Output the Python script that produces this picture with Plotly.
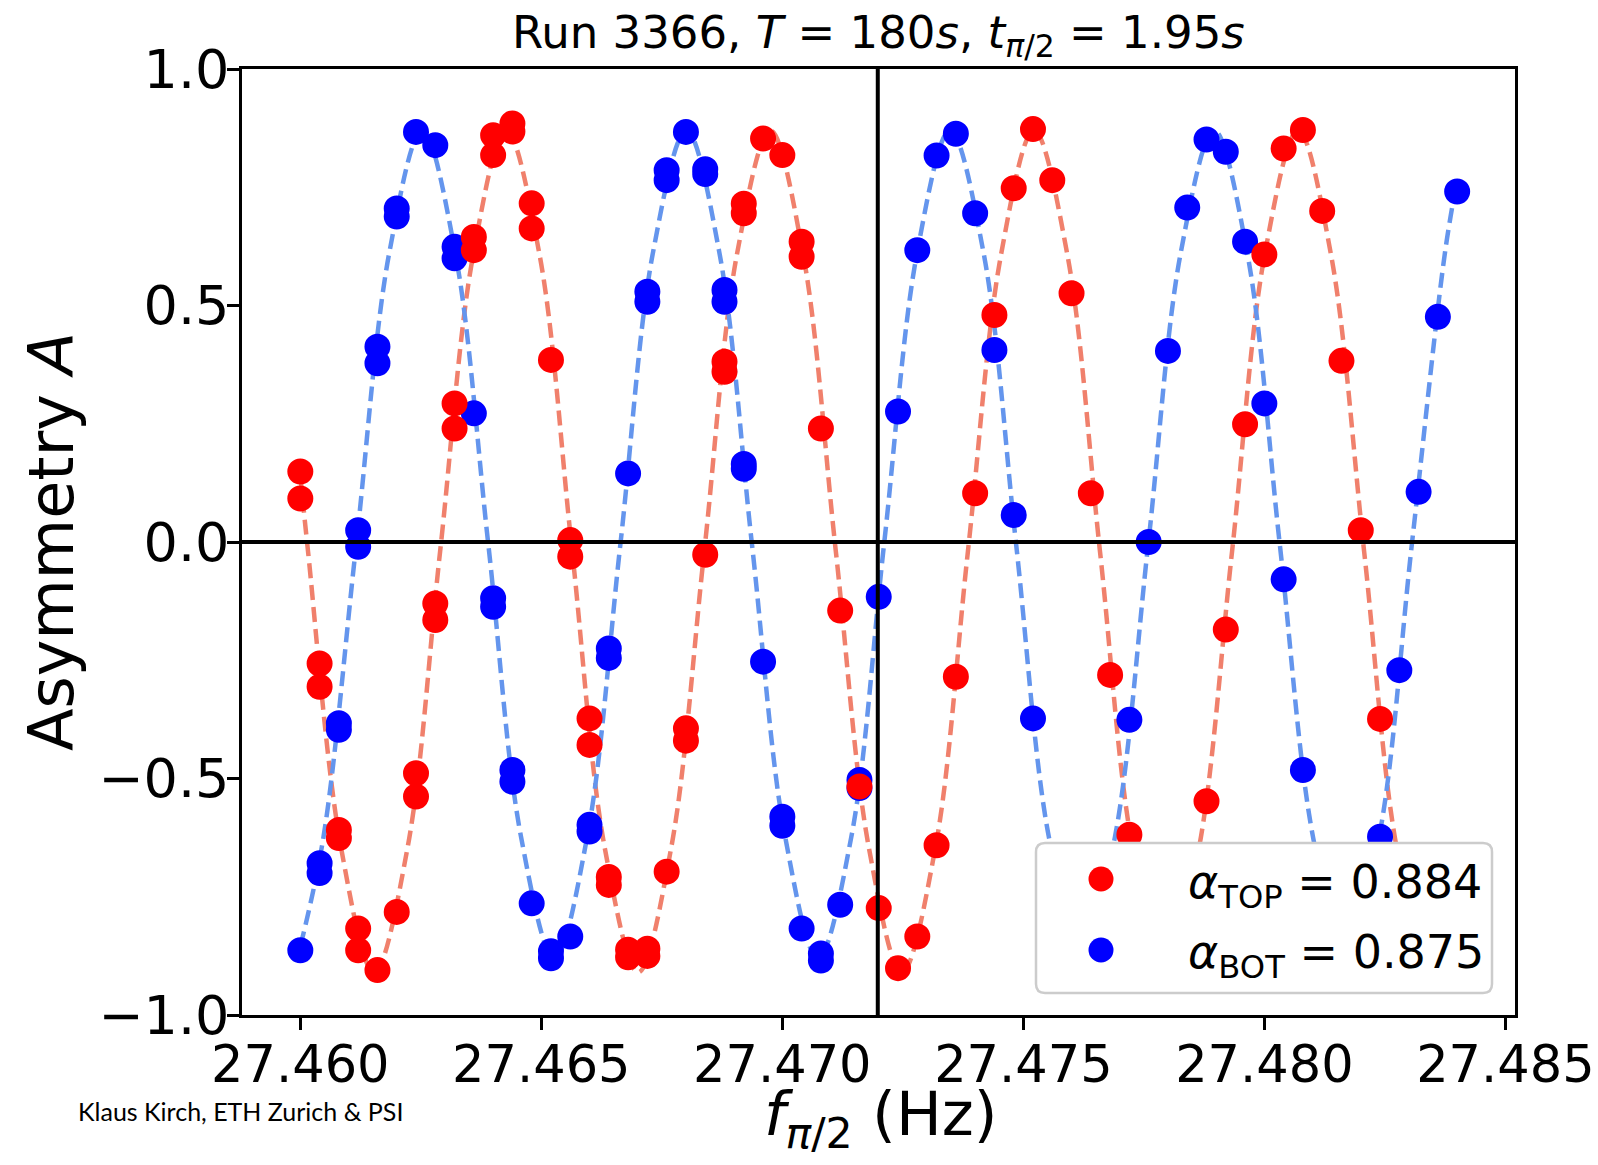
import plotly.graph_objects as go

# ---------------- data ----------------
freq_top = [27.4600, 27.4600, 27.4604, 27.4604, 27.4608, 27.4608, 27.4612, 27.4612,
            27.4616, 27.4620, 27.4624, 27.4624, 27.4628, 27.4628, 27.4632, 27.4632,
            27.4636, 27.4636, 27.4640, 27.4640, 27.4644, 27.4644, 27.4648, 27.4648,
            27.4652, 27.4656, 27.4656, 27.4660, 27.4660, 27.4664, 27.4664, 27.4668,
            27.4668, 27.4672, 27.4672, 27.4676, 27.4680, 27.4680, 27.4684, 27.4688,
            27.4688, 27.4692, 27.4692, 27.4696, 27.4700, 27.4704, 27.4704, 27.4708,
            27.4712, 27.4716, 27.4720, 27.4724, 27.4728, 27.4732, 27.4736, 27.4740,
            27.4744, 27.4748, 27.4752, 27.4756, 27.4760, 27.4764, 27.4768, 27.4772,
            27.4788, 27.4792, 27.4796, 27.4800, 27.4804, 27.4808, 27.4812, 27.4816,
            27.4820, 27.4824]
asym_top = [0.149, 0.092, -0.257, -0.306, -0.609, -0.626, -0.817, -0.863,
            -0.905, -0.782, -0.489, -0.538, -0.130, -0.165, 0.293, 0.240,
            0.645, 0.617, 0.860, 0.818, 0.885, 0.868, 0.716, 0.663,
            0.385, 0.004, -0.031, -0.373, -0.429, -0.708, -0.725, -0.862,
            -0.878, -0.860, -0.875, -0.697, -0.394, -0.420, -0.027, 0.381,
            0.360, 0.715, 0.695, 0.853, 0.818, 0.635, 0.603, 0.240,
            -0.145, -0.517, -0.774, -0.901, -0.834, -0.641, -0.285, 0.103,
            0.480, 0.748, 0.873, 0.765, 0.526, 0.103, -0.281, -0.619,
            -0.548, -0.185, 0.249, 0.608, 0.832, 0.871, 0.700, 0.383,
            0.025, -0.374]

freq_bot = [27.4600, 27.4604, 27.4604, 27.4608, 27.4608, 27.4612, 27.4612, 27.4616,
            27.4616, 27.4620, 27.4620, 27.4624, 27.4628, 27.4632, 27.4632, 27.4636,
            27.4640, 27.4640, 27.4644, 27.4644, 27.4648, 27.4652, 27.4652, 27.4656,
            27.4660, 27.4660, 27.4664, 27.4664, 27.4668, 27.4672, 27.4672, 27.4676,
            27.4676, 27.4680, 27.4684, 27.4684, 27.4688, 27.4688, 27.4692, 27.4692,
            27.4696, 27.4700, 27.4700, 27.4704, 27.4708, 27.4708, 27.4712, 27.4716,
            27.4716, 27.4720, 27.4724, 27.4728, 27.4732, 27.4736, 27.4740, 27.4744,
            27.4748, 27.4752, 27.4772, 27.4776, 27.4780, 27.4784, 27.4788, 27.4792,
            27.4796, 27.4800, 27.4804, 27.4808, 27.4824, 27.4828, 27.4832, 27.4836,
            27.4840]
asym_bot = [-0.863, -0.679, -0.700, -0.383, -0.397, 0.025, -0.010, 0.413,
            0.378, 0.705, 0.688, 0.867, 0.839, 0.624, 0.600, 0.272,
            -0.119, -0.137, -0.482, -0.507, -0.764, -0.865, -0.880, -0.834,
            -0.598, -0.612, -0.225, -0.245, 0.145, 0.529, 0.508, 0.786,
            0.765, 0.867, 0.788, 0.778, 0.533, 0.508, 0.165, 0.155,
            -0.253, -0.581, -0.600, -0.817, -0.870, -0.885, -0.767, -0.503,
            -0.520, -0.116, 0.276, 0.617, 0.817, 0.863, 0.695, 0.406,
            0.057, -0.373, -0.376, 0.000, 0.404, 0.707, 0.851, 0.825,
            0.635, 0.293, -0.079, -0.482, -0.623, -0.271, 0.106, 0.476,
            0.741]

# dashed fit curves, sampled along the drawn curves
fit_top_freq = [27.4600, 27.46016, 27.46085, 27.46153, 27.46222, 27.46290, 27.46359,
                27.46427, 27.46496, 27.46564, 27.46632, 27.46701, 27.46769, 27.46838,
                27.46906, 27.46975, 27.47043, 27.47111, 27.47180, 27.47248, 27.47317,
                27.47385, 27.47454, 27.47522, 27.47591, 27.47659, 27.47727, 27.47796,
                27.47864, 27.47933, 27.48001, 27.48070, 27.48138, 27.48207, 27.48275,
                27.48343, 27.4840]
fit_top_asym = [0.14, -0.02, -0.649, -0.91, -0.649, -0.02, 0.609,
                0.87, 0.609, -0.02, -0.649, -0.91, -0.649, -0.02,
                0.609, 0.87, 0.609, -0.02, -0.649, -0.91, -0.649,
                -0.02, 0.609, 0.87, 0.609, -0.02, -0.649, -0.91,
                -0.649, -0.02, 0.609, 0.87, 0.609, -0.02, -0.649,
                -0.91, -0.726]
fit_bot_freq = [27.4600, 27.46048, 27.46116, 27.46185, 27.46253, 27.46321, 27.46390,
                27.46458, 27.46527, 27.46595, 27.46664, 27.46732, 27.46801, 27.46869,
                27.46937, 27.47006, 27.47074, 27.47143, 27.47211, 27.47280, 27.47348,
                27.47417, 27.47485, 27.47553, 27.47622, 27.47690, 27.47759, 27.47827,
                27.47896, 27.47964, 27.48032, 27.48101, 27.48169, 27.48238, 27.48306,
                27.48375, 27.4840]
fit_bot_asym = [-0.855, -0.624, -0.005, 0.614, 0.87, 0.614, -0.005,
                -0.624, -0.88, -0.624, -0.005, 0.614, 0.87, 0.614,
                -0.005, -0.624, -0.88, -0.624, -0.005, 0.614, 0.87,
                0.614, -0.005, -0.624, -0.88, -0.624, -0.005, 0.614,
                0.87, 0.614, -0.005, -0.624, -0.88, -0.624, -0.005,
                0.614, 0.765]

alpha_top = 0.884
alpha_bot = 0.875
f_center = 27.47198

x_ticks = [27.460, 27.465, 27.470, 27.475, 27.480, 27.485]
x_tick_labels = ["27.460", "27.465", "27.470", "27.475", "27.480", "27.485"]
y_ticks = [-1.0, -0.5, 0.0, 0.5, 1.0]
y_tick_labels = ["\u22121.0", "\u22120.5", "0.0", "0.5", "1.0"]

# ---------------- layout constants ----------------
W, H = 1598, 1165
L, T = 242, 69
R, B = 1598 - 1515, 1165 - 1015
PW, PH = W - L - R, H - T - B
FONT = "DejaVu Sans"


def px_x(px):
    return (px - L) / PW


def px_y(py):
    return (H - B - py) / PH


RED, BLUE = "#ff0000", "#0000ff"
RED_FIT, BLUE_FIT = "#f0806c", "#6495ed"

fig = go.Figure()
fig.add_trace(go.Scatter(x=fit_top_freq, y=fit_top_asym, mode="lines",
                         line=dict(color=RED_FIT, width=4.5, dash="15px,7px",
                                   shape="spline"),
                         showlegend=False, hoverinfo="skip"))
fig.add_trace(go.Scatter(x=fit_bot_freq, y=fit_bot_asym, mode="lines",
                         line=dict(color=BLUE_FIT, width=4.5, dash="15px,7px",
                                   shape="spline"),
                         showlegend=False, hoverinfo="skip"))
fig.add_trace(go.Scatter(x=freq_bot, y=asym_bot, mode="markers",
                         marker=dict(color=BLUE, size=21,
                                     line=dict(color=BLUE, width=5)),
                         name="<i>\u03b1</i><sub>BOT</sub> = %.3f" % alpha_bot,
                         legend="legend2"))
fig.add_trace(go.Scatter(x=freq_top, y=asym_top, mode="markers",
                         marker=dict(color=RED, size=21,
                                     line=dict(color=RED, width=5)),
                         name="<i>\u03b1</i><sub>TOP</sub> = %.3f" % alpha_top,
                         legend="legend"))

axis_common = dict(showline=True, linecolor="black", linewidth=2.5, mirror=True,
                   ticks="outside", ticklen=12, tickwidth=2.5, tickcolor="black",
                   showgrid=False, zeroline=False, ticklabeloverflow="allow")

fig.update_xaxes(range=[27.45879, 27.48520], tickvals=x_ticks, ticktext=x_tick_labels,
                 ticklabelstandoff=-9,
                 tickfont=dict(family=FONT, size=51, color="black"), **axis_common)
fig.update_yaxes(range=[-1.0, 1.0], tickvals=y_ticks, ticktext=y_tick_labels,
                 ticklabelstandoff=-13,
                 tickfont=dict(family=FONT, size=54, color="black"), **axis_common)

# legend frame (rounded)
bx0, bx1 = px_x(1036), px_x(1492)
by1, by0 = px_y(843), px_y(993)
rx, ry = 9 / PW, 9 / PH
box_path = (f"M {bx0+rx},{by0} L {bx1-rx},{by0} Q {bx1},{by0} {bx1},{by0+ry} "
            f"L {bx1},{by1-ry} Q {bx1},{by1} {bx1-rx},{by1} L {bx0+rx},{by1} "
            f"Q {bx0},{by1} {bx0},{by1-ry} L {bx0},{by0+ry} Q {bx0},{by0} {bx0+rx},{by0} Z")

# legend handles are capped in size by plotly; a disc underneath enlarges them
LEG_X, LEG_Y_TOP, LEG_Y_BOT, LEG_R = 1101, 879, 950, 12.5


def handle_disc(cy, color):
    return dict(type="circle", xref="paper", yref="paper",
                x0=px_x(LEG_X - LEG_R), x1=px_x(LEG_X + LEG_R),
                y0=px_y(cy + LEG_R), y1=px_y(cy - LEG_R),
                fillcolor=color, line=dict(width=0), layer="above")


shapes = [
    dict(type="line", xref="x", yref="paper", x0=f_center, x1=f_center, y0=0, y1=1,
         line=dict(color="black", width=4), layer="above"),
    dict(type="line", xref="paper", yref="y", x0=0, x1=1, y0=0, y1=0,
         line=dict(color="black", width=4), layer="above"),
    dict(type="path", xref="paper", yref="paper", path=box_path,
         fillcolor="white", line=dict(color="#cccccc", width=2.5), layer="above"),
    handle_disc(LEG_Y_TOP, RED),
    handle_disc(LEG_Y_BOT, BLUE),
]

annotations = [
    dict(text="Run 3366, <i>T</i> = 180<i>s</i>, <i>t</i><sub><i>\u03c0</i>/2</sub> = 1.95<i>s</i>",
         xref="paper", yref="paper", x=0.5, y=px_y(35), xanchor="center", yanchor="middle",
         showarrow=False, font=dict(family=FONT, size=45, color="black")),
    dict(text="<i>f</i><sub><i>\u03c0</i>/2</sub> (Hz)",
         xref="paper", yref="paper", x=px_x(881), y=px_y(1118), xanchor="center",
         yanchor="middle", showarrow=False, font=dict(family=FONT, size=61, color="black")),
    dict(text="Asymmetry <i>A</i>", textangle=-90,
         xref="paper", yref="paper", x=px_x(51), y=px_y(541), xanchor="center",
         yanchor="middle", showarrow=False, font=dict(family=FONT, size=62, color="black")),
    dict(text="Klaus Kirch, ETH Zurich &amp; PSI",
         xref="paper", yref="paper", x=px_x(76), y=px_y(1111), xanchor="left",
         yanchor="middle", showarrow=False, font=dict(family="Lato", size=25, color="black")),
]

legend_common = dict(xanchor="left", yanchor="middle", bgcolor="rgba(0,0,0,0)",
                     borderwidth=0, itemwidth=162,
                     font=dict(family=FONT, size=46, color="black"))

fig.update_layout(
    width=W, height=H,
    margin=dict(l=L, r=R, t=T, b=B, autoexpand=False),
    paper_bgcolor="white", plot_bgcolor="white",
    shapes=shapes, annotations=annotations,
    showlegend=True,
    legend=dict(x=px_x(1016), y=px_y(880), **legend_common),
    legend2=dict(x=px_x(1016), y=px_y(950), **legend_common),
    font=dict(family=FONT, color="black"),
)

# remove the browser's default 8px body margin so the figure fills the page exactly
fig.write_html("out.html", config={"displayModeBar": False},
               post_script="document.body.style.margin='0px';")
